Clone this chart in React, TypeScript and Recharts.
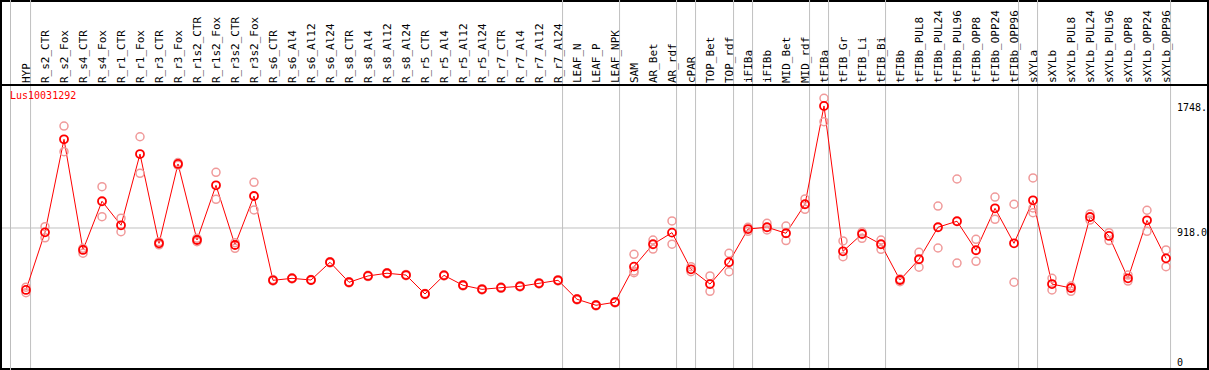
import { ComposedChart, Line, XAxis, YAxis, ReferenceLine } from 'recharts';

const categories = [
  'HYP', 'R_s2_CTR', 'R_s2_Fox', 'R_s4_CTR', 'R_s4_Fox', 'R_r1_CTR', 'R_r1_Fox', 'R_r3_CTR', 'R_r3_Fox',
  'R_r1s2_CTR', 'R_r1s2_Fox', 'R_r3s2_CTR', 'R_r3s2_Fox', 'R_s6_CTR', 'R_s6_Al4', 'R_s6_Al12', 'R_s6_Al24',
  'R_s8_CTR', 'R_s8_Al4', 'R_s8_Al12', 'R_s8_Al24', 'R_r5_CTR', 'R_r5_Al4', 'R_r5_Al12', 'R_r5_Al24',
  'R_r7_CTR', 'R_r7_Al4', 'R_r7_Al12', 'R_r7_Al24', 'LEAF_N', 'LEAF_P', 'LEAF_NPK', 'SAM', 'AR_Bet', 'AR_rdf',
  'cPAR', 'TOP_Bet', 'TOP_rdf', 'iFIBa', 'iFIBb', 'MID_Bet', 'MID_rdf', 'tFIBa', 'tFIB_Gr', 'tFIB_Li', 'tFIB_Bi',
  'tFIBb', 'tFIBb_PUL8', 'tFIBb_PUL24', 'tFIBb_PUL96', 'tFIBb_OPP8', 'tFIBb_OPP24', 'tFIBb_OPP96', 'sXYLa',
  'sXYLb', 'sXYLb_PUL8', 'sXYLb_PUL24', 'sXYLb_PUL96', 'sXYLb_OPP8', 'sXYLb_OPP24', 'sXYLb_OPP96',
];

const meanValues = [
  506, 889, 1508, 772, 1096, 936, 1410, 816, 1344, 838, 1202, 805, 1131,
  570, 583, 572, 690, 557, 599, 617, 605, 479, 603, 537, 510, 521, 530, 550, 570,
  444, 404, 424, 661, 810, 887, 643, 545, 690, 911, 923, 883, 1076, 1730,
  763, 878, 810, 572, 710, 923, 963, 770, 1049, 816, 1102, 545, 519, 991, 865, 583, 969, 716,
];

const rep1 = [
  524, 927, 1596, 783, 1193, 983, 1525, 826, 1353, 849, 1288, 820, 1222,
  575, 587, 575, 694, 561, 603, 621, 609, 483, 607, 541, 514, 525, 534, 554, 574,
  448, 408, 428, 743, 838, 965, 661, 599, 750, 923, 949, 931, 1111, 1781,
  832, 849, 838, 561, 756, 1064, 1244, 843, 1124, 1076, 1251, 583, 532, 1011, 887, 605, 1036, 772,
];

const rep2 = [
  488, 853, 1426, 750, 993, 893, 1282, 806, 1335, 827, 1109, 783, 1038,
  566, 579, 569, 686, 553, 595, 613, 601, 475, 599, 533, 506, 517, 526, 546, 566,
  440, 400, 420, 621, 778, 810, 627, 497, 627, 896, 905, 834, 1042, 1625,
  727, 891, 776, 579, 657, 785, 685, 696, 976, 557, 1020, 506, 497, 971, 834, 565, 896, 661,
];

// a few categories show a third replicate apart from the other two
const rep3: (number | null)[] = categories.map(() => null);
rep3[32] = 632;
rep3[53] = 1051;

// separators sit just after the last sample of each group
const groupEnds = [0, 28, 31, 34, 35, 37, 38, 41, 42, 45, 52, 53, 60];

const yTicks = [0, 918, 1748];
const yTickLabels = ['0', '918.0', '1748.'];

const data = categories.map((name, i) => ({
  i,
  name,
  mean: meanValues[i],
  r1: rep1[i],
  r2: rep2[i],
  r3: rep3[i],
}));

const X_DOMAIN: [number, number] = [-24 / 19, 1145 / 19];
const Y_LO = -13.3;
const Y_HI = 1869.2;
const Y_TOP = 2435;
const MONO = '"DejaVu Sans Mono", monospace';

const HeaderTick = (props: any) => {
  const { x, payload } = props;
  return (
    <text
      x={x}
      y={83}
      dy={4}
      transform={`rotate(-90, ${x}, 83)`}
      textAnchor="start"
      fontFamily={MONO}
      fontSize={11}
      fill="#000"
    >
      {categories[payload.value]}
    </text>
  );
};

const ValueTick = (props: any) => {
  const { x, y, payload } = props;
  const idx = yTicks.indexOf(payload.value);
  return (
    <text x={x - 2} y={payload.value > 0 ? y + 8 : y} fontFamily={MONO} fontSize={10} fill="#000" textAnchor="start">
      {yTickLabels[idx]}
    </text>
  );
};

export default function App() {
  return (
    <div
      style={{
        position: 'absolute',
        left: 0,
        top: 0,
        width: 1209,
        height: 370,
        boxSizing: 'border-box',
        border: '2px solid #000',
        background: '#fff',
      }}
    >
      <div style={{ position: 'absolute', left: -2, top: -2 }}>
        <ComposedChart width={1209} height={370} data={data} margin={{ top: 0, right: 2, bottom: 2, left: 2 }}>
          <XAxis
            dataKey="i"
            type="number"
            orientation="top"
            domain={X_DOMAIN}
            allowDataOverflow
            ticks={categories.map((_, i) => i)}
            interval={0}
            height={85}
            tickLine={false}
            axisLine={false}
            tick={<HeaderTick />}
          />
          <YAxis
            type="number"
            orientation="right"
            width={36}
            domain={[Y_LO, Y_HI]}
            allowDataOverflow
            ticks={yTicks}
            interval={0}
            axisLine={false}
            tickLine={false}
            tick={<ValueTick />}
          />
          {groupEnds.map((e) => (
            <ReferenceLine
              key={`sep-${e}`}
              segment={[
                { x: e + 0.24, y: Y_LO },
                { x: e + 0.24, y: Y_TOP },
              ]}
              ifOverflow="visible"
              stroke="#c0c0c0"
              strokeWidth={1}
            />
          ))}
          <ReferenceLine
            segment={[
              { x: X_DOMAIN[0], y: 918 },
              { x: 60.58, y: 918 },
            ]}
            ifOverflow="visible"
            stroke="#c0c0c0"
            strokeWidth={1}
          />
          <Line
            dataKey="r1"
            stroke="none"
            dot={{ r: 4, stroke: '#f09a9a', strokeWidth: 1.5, fill: 'none' }}
            activeDot={false}
            isAnimationActive={false}
          />
          <Line
            dataKey="r2"
            stroke="none"
            dot={{ r: 4, stroke: '#f09a9a', strokeWidth: 1.5, fill: 'none' }}
            activeDot={false}
            isAnimationActive={false}
          />
          <Line
            dataKey="r3"
            stroke="none"
            dot={{ r: 4, stroke: '#f09a9a', strokeWidth: 1.5, fill: 'none' }}
            activeDot={false}
            isAnimationActive={false}
          />
          <Line
            dataKey="mean"
            type="linear"
            stroke="#ff0000"
            strokeWidth={1}
            dot={{ r: 4, stroke: '#ff0000', strokeWidth: 1.8, fill: 'none' }}
            activeDot={false}
            isAnimationActive={false}
          />
        </ComposedChart>
      </div>
      {/* left frame line before the first sample */}
      <div style={{ position: 'absolute', left: 8, top: -2, width: 1, height: 370, background: '#bdbdbd' }} />
      <div style={{ position: 'absolute', left: -2, top: 82, width: 1209, height: 2, background: '#000' }} />
      <div
        style={{
          position: 'absolute',
          left: 8,
          top: 88,
          color: '#ff0000',
          fontFamily: MONO,
          fontSize: 10,
          lineHeight: '12px',
        }}
      >
        Lus10031292
      </div>
    </div>
  );
}
